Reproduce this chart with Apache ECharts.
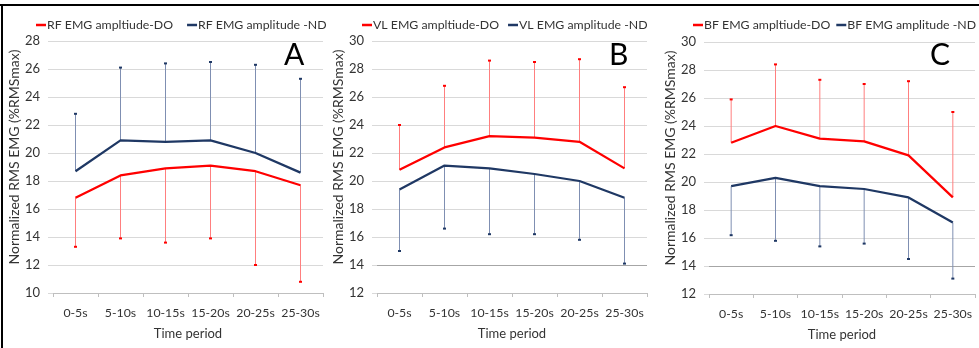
<!DOCTYPE html>
<html>
<head>
<meta charset="utf-8">
<script src="https://cdn.jsdelivr.net/npm/echarts@6/dist/echarts.min.js"></script>
<style>
html,body{margin:0;padding:0;background:#fff;}
#chart{width:979px;height:348px;}
</style>
</head>
<body>
<div id="chart"></div>
<script>
const categories = ['0-5s', '5-10s', '10-15s', '15-20s', '20-25s', '25-30s'];
const yTicksA = [10, 28, 2];
const yTicksBC = [12, 30, 2];

// Panel A (RF)
const rfDO = [16.8, 18.4, 18.9, 19.1, 18.7, 17.7];
const rfDOBarEnd = [13.3, 13.9, 13.6, 13.9, 12.0, 10.8];
const rfND = [18.7, 20.9, 20.8, 20.9, 20.0, 18.6];
const rfNDBarEnd = [22.8, 26.1, 26.4, 26.5, 26.3, 25.3];

// Panel B (VL)
const vlDO = [20.8, 22.4, 23.2, 23.1, 22.8, 20.9];
const vlDOBarEnd = [24.0, 26.8, 28.6, 28.5, 28.7, 26.7];
const vlND = [19.4, 21.1, 20.9, 20.5, 20.0, 18.8];
const vlNDBarEnd = [15.0, 16.6, 16.2, 16.2, 15.8, 14.1];

// Panel C (BF)
const bfDO = [22.8, 24.0, 23.1, 22.9, 21.9, 18.9];
const bfDOBarEnd = [25.9, 28.4, 27.3, 27.0, 27.2, 25.0];
const bfND = [19.7, 20.3, 19.7, 19.5, 18.9, 17.1];
const bfNDBarEnd = [16.2, 15.8, 15.4, 15.6, 14.5, 13.1];

const panelLetters = ['A', 'B', 'C'];
const legendNames = [
  ['RF EMG ampltiude-DO', 'RF EMG amplitude -ND'],
  ['VL EMG ampltiude-DO', 'VL EMG amplitude -ND'],
  ['BF EMG ampltiude-DO', 'BF EMG amplitude -ND']
];
const yName = 'Normalized RMS EMG (%RMSmax)';
const xName = 'Time period';

const FONT = 'Lato';
const RED = '#ff0000';
const BLUE = '#1f3864';
const RED_BAR = '#ff7f7f';
const BLUE_BAR = '#7f8fb2';

const panels = [
  {grid: {left: 53, right: 656, top: 41, bottom: 55}, ticks: yTicksA, doV: rfDO, doE: rfDOBarEnd, ndV: rfND, ndE: rfNDBarEnd, legendLeft: 31, legendGap: 14, letterX: 295, dark: null},
  {grid: {left: 377, right: 332, top: 41, bottom: 55}, ticks: yTicksBC, doV: vlDO, doE: vlDOBarEnd, ndV: vlND, ndE: vlNDBarEnd, legendLeft: 357, legendGap: 9, letterX: 620, dark: 1},
  {grid: {left: 709, right: 4, top: 42, bottom: 54}, ticks: yTicksBC, doV: bfDO, doE: bfDOBarEnd, ndV: bfND, ndE: bfNDBarEnd, legendLeft: 688, legendGap: 6, letterX: 941, dark: 1}
];

function errBar(color, capColor) {
  return function (params, api) {
    const i = api.value(0);
    const p1 = api.coord([i, api.value(1)]);
    const p2 = api.coord([i, api.value(2)]);
    return {
      type: 'group',
      children: [
        {type: 'line', shape: {x1: p1[0], y1: p1[1], x2: p2[0], y2: p2[1]}, style: {stroke: color, lineWidth: 1}},
        {type: 'rect', shape: {x: p2[0] - 1.5, y: p2[1] - 1, width: 3, height: 2}, style: {fill: capColor}}
      ]
    };
  };
}

const option = {
  animation: false,
  backgroundColor: '#fff',
  textStyle: {fontFamily: FONT},
  grid: [], xAxis: [], yAxis: [], series: [], legend: [], graphic: []
};

panels.forEach((p, k) => {
  option.grid.push(p.grid);
  option.xAxis.push({
    type: 'category', gridIndex: k, data: categories, boundaryGap: true,
    name: xName, nameLocation: 'middle', nameGap: 34,
    nameTextStyle: {fontFamily: FONT, fontSize: 13, color: '#333'},
    axisLine: {lineStyle: {color: '#bfbfbf', width: 1}},
    axisTick: {show: true, length: 4, interval: 0, lineStyle: {color: '#bfbfbf'}},
    axisLabel: {interval: 0, hideOverlap: false, margin: 14, fontFamily: FONT, fontSize: 12.3, color: '#333'}
  });
  const nTicks = (p.ticks[1] - p.ticks[0]) / p.ticks[2] + 1;
  const splitColors = [];
  for (let t = 0; t < nTicks; t++) splitColors.push(t === p.dark ? '#a6a6a6' : '#d9d9d9');
  option.yAxis.push({
    type: 'value', gridIndex: k, min: p.ticks[0], max: p.ticks[1], interval: p.ticks[2],
    name: yName, nameLocation: 'middle', nameGap: 29,
    nameTextStyle: {fontFamily: FONT, fontSize: 14, color: '#333', padding: [0, 0, 0, 20]},
    axisLine: {show: false},
    axisTick: {show: true, length: 5, lineStyle: {color: '#d9d9d9'}},
    splitLine: {show: true, lineStyle: {color: splitColors, width: 1}},
    axisLabel: {margin: 13, fontFamily: FONT, fontSize: 13, color: '#333'}
  });
  option.series.push({
    type: 'custom', xAxisIndex: k, yAxisIndex: k, z: 1, name: 'errDO' + k,
    renderItem: errBar(RED_BAR, RED),
    encode: {x: 0, y: [1, 2]},
    data: p.doV.map((v, i) => [i, v, p.doE[i]])
  });
  option.series.push({
    type: 'custom', xAxisIndex: k, yAxisIndex: k, z: 1, name: 'errND' + k,
    renderItem: errBar(BLUE_BAR, BLUE),
    encode: {x: 0, y: [1, 2]},
    data: p.ndV.map((v, i) => [i, v, p.ndE[i]])
  });
  option.series.push({
    type: 'line', name: legendNames[k][0], xAxisIndex: k, yAxisIndex: k, z: 3,
    data: p.doV, symbol: 'none', color: RED, lineStyle: {color: RED, width: 2.25}
  });
  option.series.push({
    type: 'line', name: legendNames[k][1], xAxisIndex: k, yAxisIndex: k, z: 3,
    data: p.ndV, symbol: 'none', color: BLUE, lineStyle: {color: BLUE, width: 2.25}
  });
  option.legend.push({
    data: legendNames[k], left: p.legendLeft, top: 14, width: 320, icon: 'rect',
    itemWidth: 10, itemHeight: 2.5, itemGap: p.legendGap, selectedMode: false,
    textStyle: {fontFamily: FONT, fontSize: 12.3, color: '#333', padding: [0, 0, 0, -4]}
  });
  option.graphic.push({
    type: 'text', left: p.letterX - 11, top: 40,
    style: {text: panelLetters[k], font: '30px ' + FONT, fill: '#000'}
  });
});

option.graphic.push({type: 'rect', shape: {x: 0, y: 4, width: 979, height: 2}, style: {fill: '#000'}});
option.graphic.push({type: 'rect', shape: {x: 1, y: 4, width: 2, height: 344}, style: {fill: '#000'}});

const chart = echarts.init(document.getElementById('chart'), null, {renderer: 'canvas'});
chart.setOption(option);
</script>
</body>
</html>
